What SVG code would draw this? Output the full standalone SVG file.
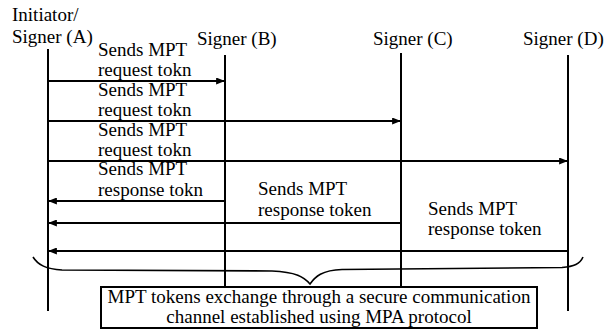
<svg xmlns="http://www.w3.org/2000/svg" width="613" height="333" viewBox="0 0 613 333">
  <style>
    text { font-family: "Liberation Serif", "Times New Roman", serif; font-size: 19px; fill: #000; }
    .life { stroke: #000; stroke-width: 2; fill: none; }
    .msg { stroke: #000; stroke-width: 2; fill: none; marker-end: url(#arrow); }
    .brace { stroke: #000; stroke-width: 1.6; fill: none; }
    .box { stroke: #000; stroke-width: 2; fill: #fff; }
  </style>
  <defs>
    <marker id="arrow" viewBox="0 0 10 8" refX="9" refY="4" markerWidth="9" markerHeight="7" markerUnits="userSpaceOnUse" orient="auto">
      <path d="M0,0 L10,4 L0,8 Z" fill="#000"/>
    </marker>
  </defs>
  <rect width="613" height="333" fill="#fff"/>

  <!-- participants: header text and lifeline -->
  <g id="signer-a">
    <text x="12" y="21">Initiator/</text>
    <text x="12" y="43">Signer (A)</text>
    <line class="life" x1="48" y1="49" x2="48" y2="311"/>
  </g>
  <g id="signer-b">
    <text x="197" y="45">Signer (B)</text>
    <line class="life" x1="225" y1="55" x2="225" y2="287"/>
  </g>
  <g id="signer-c">
    <text x="373" y="45">Signer (C)</text>
    <line class="life" x1="401" y1="53" x2="401" y2="287"/>
  </g>
  <g id="signer-d">
    <text x="523" y="45">Signer (D)</text>
    <line class="life" x1="568" y1="55" x2="568" y2="311"/>
  </g>

  <!-- token messages with their labels -->
  <g id="connectors">
    <line class="msg" x1="49" y1="81" x2="224" y2="81"/>
    <line class="msg" x1="49" y1="121" x2="400" y2="121"/>
    <line class="msg" x1="49" y1="161" x2="567" y2="161"/>
    <line class="msg" x1="224" y1="201" x2="49" y2="201"/>
    <line class="msg" x1="400" y1="223" x2="49" y2="223"/>
    <line class="msg" x1="567" y1="251" x2="49" y2="251"/>

    <text x="98" y="56">Sends MPT</text>
    <text x="98" y="76">request tokn</text>
    <text x="98" y="96">Sends MPT</text>
    <text x="98" y="116">request tokn</text>
    <text x="98" y="136">Sends MPT</text>
    <text x="98" y="156">request tokn</text>
    <text x="98" y="175">Sends MPT</text>
    <text x="98" y="196">response tokn</text>
    <text x="258" y="195">Sends MPT</text>
    <text x="258" y="216">response token</text>
    <text x="428" y="215">Sends MPT</text>
    <text x="428" y="235">response token</text>
  </g>

  <!-- brace grouping the exchange, with its caption box -->
  <g id="exchange">
    <path class="brace" d="M33,257 C38,265 46,269 62,270 L272,271 C296,272 304,277 310,284 C315,277 322,270 342,269.5 L562,267.5 C574,266.5 580,264 583,257"/>
    <rect class="box" x="101" y="287" width="436" height="41"/>
    <text x="319" y="303" text-anchor="middle">MPT tokens exchange through a secure communication</text>
    <text x="319" y="323" text-anchor="middle">channel established using MPA protocol</text>
  </g>
</svg>
